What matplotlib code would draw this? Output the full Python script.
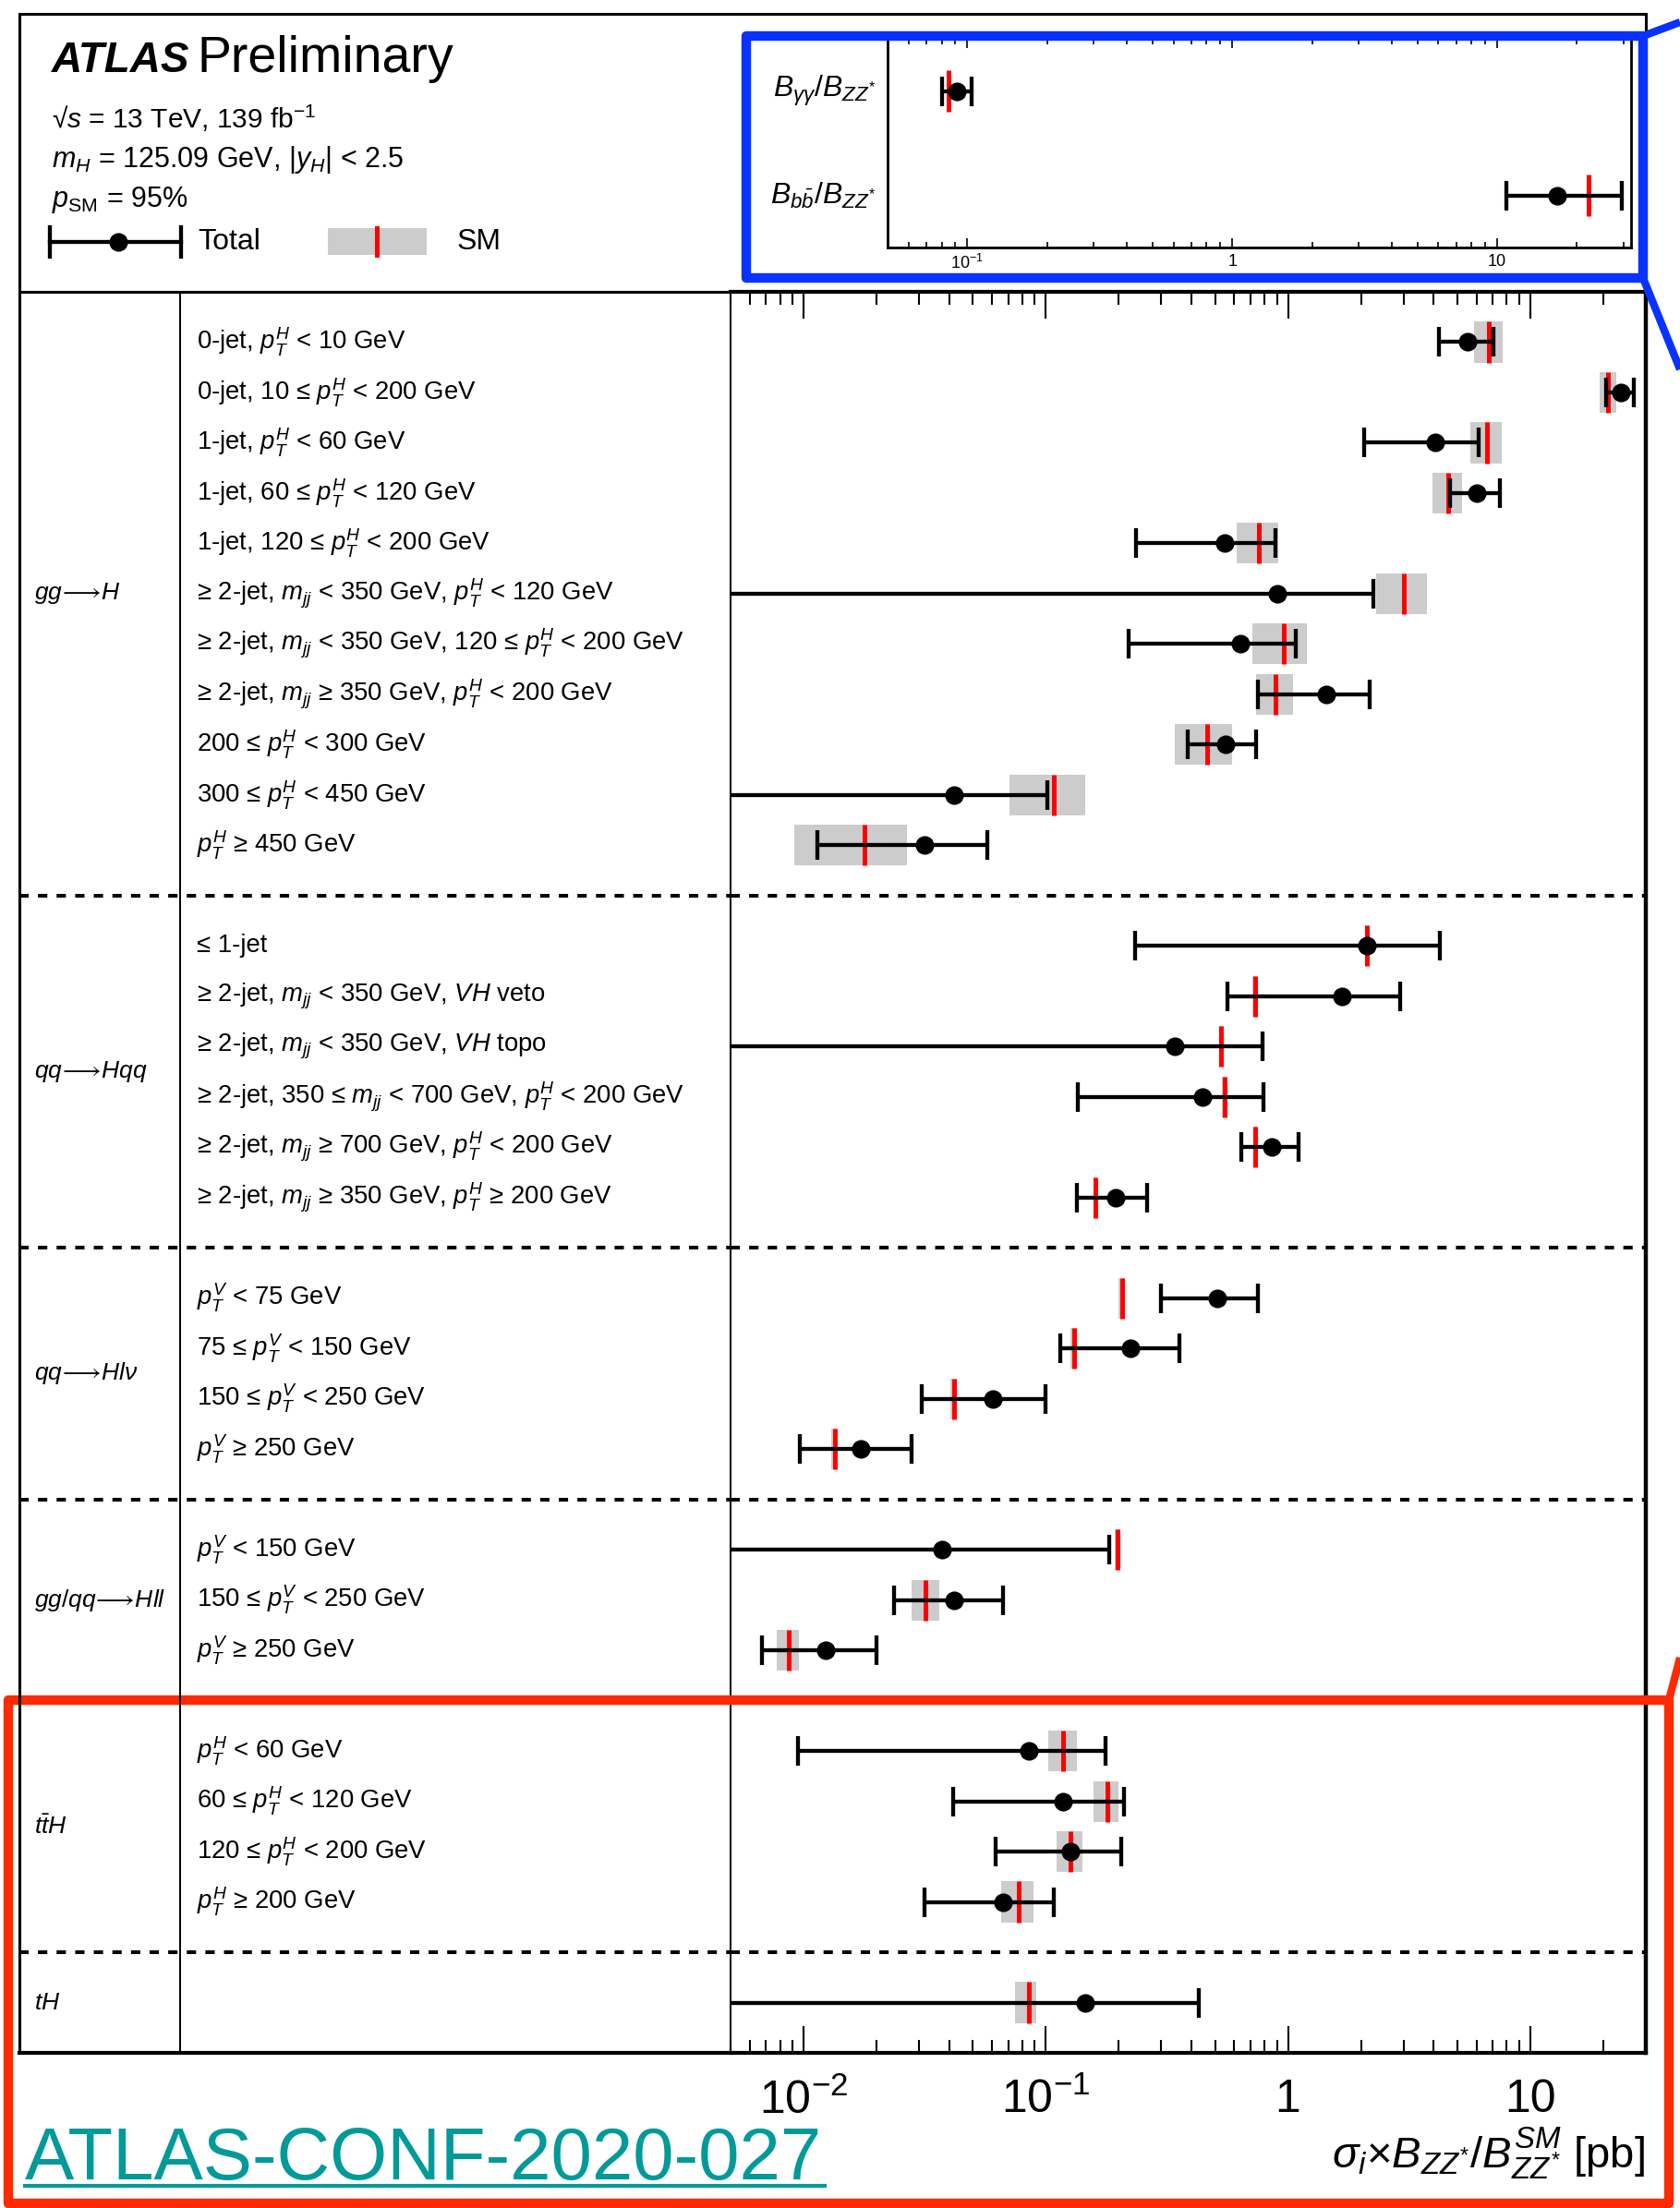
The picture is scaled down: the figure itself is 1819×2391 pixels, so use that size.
import numpy as np
import matplotlib
matplotlib.use("Agg")
import matplotlib.pyplot as plt
from matplotlib.patches import Rectangle
from matplotlib.ticker import LogLocator, NullFormatter
import matplotlib.transforms as mtransforms

plt.rcParams['font.family'] = ['Liberation Sans', 'DejaVu Sans']
plt.rcParams['mathtext.fontset'] = 'custom'
plt.rcParams['mathtext.rm'] = 'Liberation Sans'
plt.rcParams['mathtext.it'] = 'Liberation Sans:italic'
plt.rcParams['mathtext.bf'] = 'Liberation Sans:bold'
plt.rcParams['mathtext.sf'] = 'Liberation Sans'
plt.rcParams['mathtext.fallback'] = 'stixsans'

# ---------------------------------------------------------------- data
NEG = 1e-4  # lower edge below the plotted range

process_names = [r"$gg\!\longrightarrow\!H$", r"$qq\!\longrightarrow\!Hqq$",
                 r"$qq\!\longrightarrow\!Hl\nu$", r"$gg/qq\!\longrightarrow\!Hll$",
                 r"$t\bar{t}H$", r"$tH$"]

ggH_bins = ["0-jet, $p_{T}^{H}$ < 10 GeV",
            "0-jet, 10 ≤ $p_{T}^{H}$ < 200 GeV",
            "1-jet, $p_{T}^{H}$ < 60 GeV",
            "1-jet, 60 ≤ $p_{T}^{H}$ < 120 GeV",
            "1-jet, 120 ≤ $p_{T}^{H}$ < 200 GeV",
            "≥ 2-jet, $m_{jj}$ < 350 GeV, $p_{T}^{H}$ < 120 GeV",
            "≥ 2-jet, $m_{jj}$ < 350 GeV, 120 ≤ $p_{T}^{H}$ < 200 GeV",
            "≥ 2-jet, $m_{jj}$ ≥ 350 GeV, $p_{T}^{H}$ < 200 GeV",
            "200 ≤ $p_{T}^{H}$ < 300 GeV",
            "300 ≤ $p_{T}^{H}$ < 450 GeV",
            "$p_{T}^{H}$ ≥ 450 GeV"]
ggH_val = [5.52, 23.6, 4.06, 6.0, 0.546, 0.904, 0.638, 1.44, 0.552, 0.042, 0.0315]
ggH_lo = [4.2, 20.6, 2.06, 4.67, 0.236, NEG, 0.22, 0.751, 0.386, NEG, 0.0114]
ggH_hi = [7.07, 26.8, 6.1, 7.47, 0.889, 2.25, 1.08, 2.18, 0.739, 0.1016, 0.0574]
ggH_sm = [6.76, 20.9, 6.64, 4.59, 0.756, 3.02, 0.957, 0.884, 0.464, 0.1076, 0.0178]
ggH_sm_lo = [5.87, 19.4, 5.68, 3.95, 0.614, 2.32, 0.71, 0.739, 0.341, 0.0706, 0.0092]
ggH_sm_hi = [7.7, 22.6, 7.6, 5.22, 0.909, 3.73, 1.2, 1.045, 0.59, 0.1456, 0.0267]

qqHqq_bins = ["≤ 1-jet",
              "≥ 2-jet, $m_{jj}$ < 350 GeV, $VH$ veto",
              "≥ 2-jet, $m_{jj}$ < 350 GeV, $VH$ topo",
              "≥ 2-jet, 350 ≤ $m_{jj}$ < 700 GeV, $p_{T}^{H}$ < 200 GeV",
              "≥ 2-jet, $m_{jj}$ ≥ 700 GeV, $p_{T}^{H}$ < 200 GeV",
              "≥ 2-jet, $m_{jj}$ ≥ 350 GeV, $p_{T}^{H}$ ≥ 200 GeV"]
qqHqq_val = [2.12, 1.67, 0.341, 0.444, 0.855, 0.194]
qqHqq_lo = [0.233, 0.561, NEG, 0.136, 0.642, 0.134]
qqHqq_hi = [4.22, 2.90, 0.786, 0.791, 1.11, 0.262]
qqHqq_sm = [2.12, 0.731, 0.531, 0.546, 0.735, 0.160]
qqHqq_sm_lo = [2.08, 0.716, 0.520, 0.535, 0.720, 0.157]
qqHqq_sm_hi = [2.16, 0.746, 0.542, 0.557, 0.750, 0.163]

qqHlv_bins = ["$p_{T}^{V}$ < 75 GeV",
              "75 ≤ $p_{T}^{V}$ < 150 GeV",
              "150 ≤ $p_{T}^{V}$ < 250 GeV",
              "$p_{T}^{V}$ ≥ 250 GeV"]
qqHlv_val = [0.511, 0.223, 0.0607, 0.0172]
qqHlv_lo = [0.298, 0.115, 0.0307, 0.00966]
qqHlv_hi = [0.751, 0.355, 0.0995, 0.0279]
qqHlv_sm = [0.206, 0.131, 0.0417, 0.01346]
qqHlv_sm_lo = [0.199, 0.127, 0.0403, 0.0130]
qqHlv_sm_hi = [0.213, 0.135, 0.0431, 0.0139]

Hll_bins = ["$p_{T}^{V}$ < 150 GeV",
            "150 ≤ $p_{T}^{V}$ < 250 GeV",
            "$p_{T}^{V}$ ≥ 250 GeV"]
Hll_val = [0.0373, 0.0417, 0.0123]
Hll_lo = [NEG, 0.0237, 0.00676]
Hll_hi = [0.183, 0.0664, 0.0201]
Hll_sm = [0.198, 0.0319, 0.00869]
Hll_sm_lo = [0.192, 0.0280, 0.00778]
Hll_sm_hi = [0.204, 0.0363, 0.00957]

ttH_bins = ["$p_{T}^{H}$ < 60 GeV",
            "60 ≤ $p_{T}^{H}$ < 120 GeV",
            "120 ≤ $p_{T}^{H}$ < 200 GeV",
            "$p_{T}^{H}$ ≥ 200 GeV"]
ttH_val = [0.0850, 0.118, 0.127, 0.0664]
ttH_lo = [0.00946, 0.0413, 0.0621, 0.0315]
ttH_hi = [0.177, 0.2095, 0.205, 0.1076]
ttH_sm = [0.118, 0.179, 0.127, 0.0773]
ttH_sm_lo = [0.1028, 0.158, 0.111, 0.0657]
ttH_sm_hi = [0.1346, 0.200, 0.142, 0.0889]

tH_bins = [""]
tH_val = [0.1456]
tH_lo = [NEG]
tH_hi = [0.4295]
tH_sm = [0.085]
tH_sm_lo = [0.0747]
tH_sm_hi = [0.091]

groups = [
    (ggH_bins, ggH_val, ggH_lo, ggH_hi, ggH_sm, ggH_sm_lo, ggH_sm_hi),
    (qqHqq_bins, qqHqq_val, qqHqq_lo, qqHqq_hi, qqHqq_sm, qqHqq_sm_lo, qqHqq_sm_hi),
    (qqHlv_bins, qqHlv_val, qqHlv_lo, qqHlv_hi, qqHlv_sm, qqHlv_sm_lo, qqHlv_sm_hi),
    (Hll_bins, Hll_val, Hll_lo, Hll_hi, Hll_sm, Hll_sm_lo, Hll_sm_hi),
    (ttH_bins, ttH_val, ttH_lo, ttH_hi, ttH_sm, ttH_sm_lo, ttH_sm_hi),
    (tH_bins, tH_val, tH_lo, tH_hi, tH_sm, tH_sm_lo, tH_sm_hi),
]

ratio_names = [r"$B_{\gamma\gamma}/B_{ZZ^{*}}$", r"$B_{b\bar{b}}/B_{ZZ^{*}}$"]
ratio_val = [0.0914, 16.9]
ratio_lo = [0.0805, 10.8]
ratio_hi = [0.1037, 29.6]
ratio_sm = [0.0849, 22.1]

main_ticks = [0.01, 0.1, 1, 10]
main_ticklabels = [r"$10^{-2}$", r"$10^{-1}$", "1", "10"]
ratio_ticks = [0.1, 1, 10]
ratio_ticklabels = [r"$10^{-1}$", "1", "10"]

# ---------------------------------------------------------------- layout
W, H = 1819, 2391
fig = plt.figure(figsize=(W / 100, H / 100), dpi=100)


def box(x0, y0, x1, y1):
    return [x0 / W, 1 - y1 / H, (x1 - x0) / W, (y1 - y0) / H]


X_LEFT, X_COL, X_AX, X_RIGHT = 21, 195, 791, 1782
Y_TOP, Y_MAIN, Y_BOT = 15, 316, 2223

# row slots: one slot per bin, one slot per separator
rows, separators, group_mid = [], [], []
slot = 1
for gi, g in enumerate(groups):
    n = len(g[0])
    ys = list(range(slot, slot + n))
    rows.append(ys)
    group_mid.append(np.mean(ys))
    slot += n
    if gi < len(groups) - 1:
        separators.append(slot)
        slot += 1
n_slots = slot

ax = fig.add_axes(box(X_AX, Y_MAIN, X_RIGHT, Y_BOT))
axl = fig.add_axes(box(X_LEFT, Y_MAIN, X_AX, Y_BOT))
axi = fig.add_axes(box(961, 42, 1766, 268))
ov = fig.add_axes([0, 0, 1, 1], zorder=10)
ov.set_xlim(0, W)
ov.set_ylim(H, 0)
ov.axis('off')

# ---------------------------------------------------------------- main panel
BOX_H = 0.81
for g, ys in zip(groups, rows):
    names, val, lo, hi, sm, sm_lo, sm_hi = [np.asarray(a) if i else a for i, a in enumerate(g)]
    ys = np.asarray(ys, dtype=float)
    ax.barh(ys, sm_hi - sm_lo, left=sm_lo, height=BOX_H, color='#cccccc', zorder=1, linewidth=0)
    ax.vlines(sm, ys - BOX_H / 2, ys + BOX_H / 2, color='#ff0000', lw=3.6, zorder=2)
    ax.errorbar(val, ys, xerr=[val - lo, hi - val], fmt='o', color='black', ms=13.5,
                elinewidth=3.1, capsize=11.5, capthick=3.1, zorder=3)

ax.set_xscale('log')
ax.set_xlim(0.005, 30)
ax.set_ylim(n_slots, 0)
ax.set_yticks([])
ax.set_xticks(main_ticks)
ax.set_xticklabels(main_ticklabels, fontsize=36)
ax.xaxis.set_minor_locator(LogLocator(base=10, subs=np.arange(2, 10)))
ax.xaxis.set_minor_formatter(NullFormatter())
ax.tick_params(axis='x', which='both', direction='in', top=True, bottom=True, width=1.5, pad=20)
ax.tick_params(axis='x', which='major', length=21)
ax.tick_params(axis='x', which='minor', length=10)
ax.spines['left'].set_linewidth(1.4)
ax.spines['right'].set_linewidth(3.2)
ax.spines['top'].set_linewidth(3.0)
ax.spines['bottom'].set_linewidth(3.0)
for s in separators:
    ax.axhline(s, color='black', lw=2.9, linestyle=(0, (2.5, 2.5)), zorder=0)

# ---------------------------------------------------------------- table on the left
axl.set_xlim(X_LEFT, X_AX)
axl.set_ylim(n_slots, 0)
axl.axis('off')
for s in separators:
    axl.axhline(s, color='black', lw=2.9, linestyle=(0, (2.5, 2.5)))
for name, ym in zip(process_names, group_mid):
    axl.text(37, ym, name, fontsize=19, va='center', ha='left')
for g, ys in zip(groups, rows):
    for label, y in zip(g[0], ys):
        if label:
            axl.text(213, y, label, fontsize=19.8, va='center', ha='left')

# frame lines of the table and header box
ov.add_patch(Rectangle((X_LEFT, Y_TOP), X_RIGHT - X_LEFT, Y_MAIN - Y_TOP,
                       fill=False, edgecolor='black', lw=2.2))
ov.plot([X_LEFT, X_LEFT], [Y_MAIN, Y_BOT], color='black', lw=2.2)
ov.plot([X_COL, X_COL], [Y_MAIN, Y_BOT], color='black', lw=1.4)
ov.plot([X_LEFT, X_AX], [Y_BOT, Y_BOT], color='black', lw=3.0)

# ---------------------------------------------------------------- header text and legend
ov.text(56, 78, "ATLAS", fontsize=33, fontweight='bold', style='italic', va='baseline')
ov.text(213, 78, "Preliminary", fontsize=40, va='baseline')
ov.text(56, 139, "√$s$ = 13 TeV, 139 fb$^{-1}$", fontsize=21.5, va='baseline')
ov.text(56, 181, r"$m_{H}$ = 125.09 GeV, |$y_{H}$| < 2.5", fontsize=22, va='baseline')
ov.text(56, 224, r"$p_{\mathrm{SM}}$ = 95%", fontsize=22, va='baseline')

ov.plot([54, 196], [262, 262], color='black', lw=3.1)
ov.plot([54, 54], [246, 278], color='black', lw=3.1)
ov.plot([196, 196], [246, 278], color='black', lw=3.1)
ov.plot([128], [262], 'o', color='black', ms=13.5)
ov.text(214, 262, "Total", fontsize=23, va='center')
ov.add_patch(Rectangle((355, 247), 107, 29, color='#cccccc', lw=0))
ov.plot([408, 408], [247, 276], color='#ff0000', lw=3.6)
ov.text(495, 262, "SM", fontsize=23, va='center')

# ---------------------------------------------------------------- branching-ratio inset
ry = np.array([0.5, 1.5])
rv, rl, rh = np.asarray(ratio_val), np.asarray(ratio_lo), np.asarray(ratio_hi)
axi.vlines(ratio_sm, ry - 0.2, ry + 0.2, color='#ff0000', lw=3.6, zorder=2)
axi.errorbar(rv, ry, xerr=[rv - rl, rh - rv], fmt='o', color='black', ms=13.5,
             elinewidth=3.1, capsize=11.5, capthick=3.1, zorder=3)
axi.set_xscale('log')
axi.set_xlim(0.05, 32)
axi.set_ylim(2, 0)
axi.set_yticks([])
axi.set_xticks(ratio_ticks)
axi.set_xticklabels(ratio_ticklabels, fontsize=13)
axi.xaxis.set_minor_locator(LogLocator(base=10, subs=np.arange(2, 10)))
axi.xaxis.set_minor_formatter(NullFormatter())
axi.tick_params(axis='x', which='both', direction='in', top=True, bottom=True, width=1.2, pad=5)
axi.tick_params(axis='x', which='major', length=7)
axi.tick_params(axis='x', which='minor', length=4)
for sp in axi.spines.values():
    sp.set_linewidth(2.0)
trans = mtransforms.blended_transform_factory(axi.transAxes, axi.transData)
for name, y in zip(ratio_names, ry):
    axi.text(-0.016, y, name, transform=trans, fontsize=23, ha='right', va='center')

# ---------------------------------------------------------------- axis title and reference
ov.text(1781, 2332, r"$\sigma_{i}{\times}B_{ZZ^{*}}/B^{SM}_{ZZ^{*}}$ [pb]", fontsize=34,
        ha='right', va='center')
teal = '#009a99'
ov.text(27, 2360, "ATLAS-CONF-2020-027", fontsize=57.5, color=teal, ha='left', va='baseline')
ov.plot([27, 893], [2367, 2367], color=teal, lw=3)

# ---------------------------------------------------------------- highlight frames
blue = '#0a32ff'
red = '#ff2a00'
ov.add_patch(Rectangle((808, 39), 1779 - 808, 301 - 39, fill=False, edgecolor=blue,
                       lw=7.5, joinstyle='round'))
ov.plot([1779, 1819], [39, 24], color=blue, lw=6, solid_capstyle='butt')
ov.plot([1779, 1819], [301, 400], color=blue, lw=6, solid_capstyle='butt')
ov.add_patch(Rectangle((9, 1841), 1807 - 9, 2386 - 1841, fill=False, edgecolor=red,
                       lw=7.5, joinstyle='round'))
ov.plot([1807, 1819], [1841, 1795], color=red, lw=6, solid_capstyle='butt')

fig.savefig("out.png", dpi=100)
